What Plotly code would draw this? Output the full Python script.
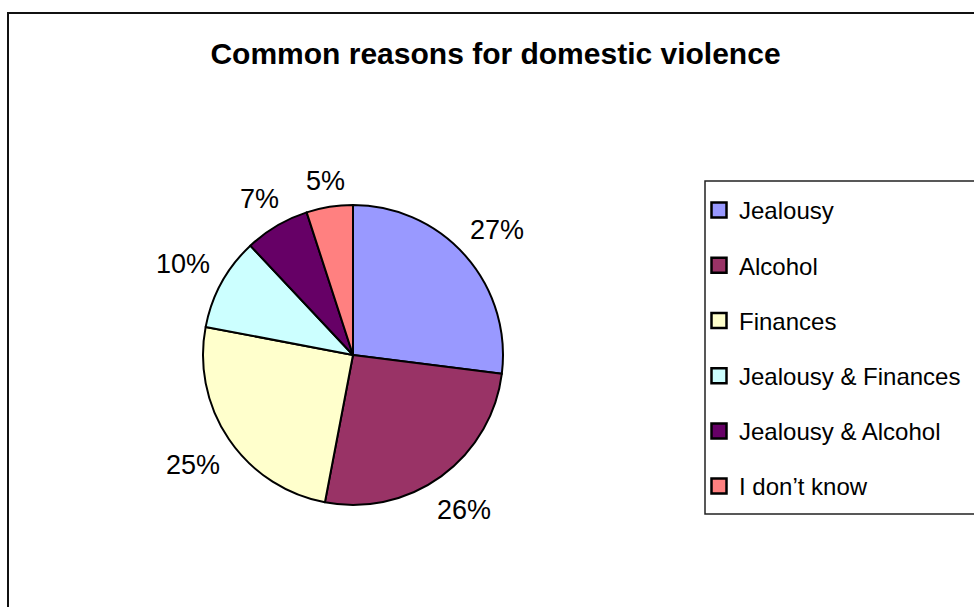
import math
import plotly.graph_objects as go

# Survey answers: common reasons for domestic violence (percent of respondents)
categories = ["Jealousy", "Alcohol", "Finances", "Jealousy & Finances",
              "Jealousy & Alcohol", "I don\u2019t know"]
shares = [27, 26, 25, 10, 7, 5]
slice_colors = ["#9999FF", "#993366", "#FFFFCC", "#CCFFFF", "#660066", "#FF8080"]

W, H = 974, 607
FONT = "Arial, 'Liberation Sans', sans-serif"
LABEL_SIZE = 27

# pie geometry in pixels
CX, CY, R = 353, 355, 150


def px_x(x):
    return x / W


def px_y(y):
    return 1 - y / H


fig = go.Figure()

fig.add_trace(go.Pie(
    labels=categories,
    values=shares,
    sort=False,
    direction="clockwise",
    rotation=0,
    marker=dict(colors=slice_colors, line=dict(color="black", width=2)),
    textinfo="none",
    showlegend=False,
    hoverinfo="label+percent",
    domain=dict(x=[px_x(CX - R), px_x(CX + R)], y=[px_y(CY + R), px_y(CY - R)]),
))

# Percentage labels sit just outside each slice, along its mid-angle
total = sum(shares)
annotations = []
cum = 0
for v in shares:
    mid = (cum + v / 2) / total * 2 * math.pi
    cum += v
    ux, uy = math.sin(mid), -math.cos(mid)
    text = f"{round(100 * v / total)}%"
    half_w = (0.556 * (len(text) - 1) + 0.889) * LABEL_SIZE / 2
    half_h = 10
    d = R + 15 + half_w * abs(ux) + half_h * abs(uy)
    annotations.append(dict(
        x=px_x(CX + d * ux), y=px_y(CY + d * uy + 2),
        xref="paper", yref="paper", text=text, showarrow=False,
        xanchor="center", yanchor="middle",
        font=dict(family=FONT, size=LABEL_SIZE, color="black"),
    ))

# Legend entries, one group each so the rows can be spaced apart
for name, color in zip(categories, slice_colors):
    fig.add_trace(go.Scatter(
        x=[None], y=[None], mode="markers", name=name, legendgroup=name,
        marker=dict(symbol="square", size=15, color=color,
                    line=dict(color="black", width=2.5)),
    ))

fig.update_layout(
    width=W, height=H,
    margin=dict(l=0, r=0, t=0, b=0),
    paper_bgcolor="white", plot_bgcolor="white",
    xaxis=dict(visible=False), yaxis=dict(visible=False),
    title=dict(
        text="<b>Common reasons for domestic violence</b>",
        font=dict(family=FONT, size=30, color="black"),
        x=px_x(495.5), xanchor="center", xref="paper",
        y=px_y(53), yanchor="middle", yref="paper",
    ),
    legend=dict(
        x=px_x(699), y=px_y(188), xanchor="left", yanchor="top",
        font=dict(family=FONT, size=24, color="black"),
        bgcolor="rgba(0,0,0,0)", borderwidth=0,
        tracegroupgap=21,
        itemclick=False, itemdoubleclick=False,
    ),
    annotations=annotations,
    shapes=[
        # outer chart frame (runs off the right and bottom edges)
        dict(type="rect", xref="paper", yref="paper",
             x0=px_x(8), x1=px_x(990), y0=px_y(620), y1=px_y(13),
             line=dict(color="#111111", width=2), fillcolor="rgba(0,0,0,0)", layer="below"),
        # legend frame
        dict(type="rect", xref="paper", yref="paper",
             x0=px_x(705), x1=px_x(990), y0=px_y(514), y1=px_y(181),
             line=dict(color="#222222", width=1.5), fillcolor="rgba(0,0,0,0)", layer="below"),
    ],
)

fig.write_html("out.html")
